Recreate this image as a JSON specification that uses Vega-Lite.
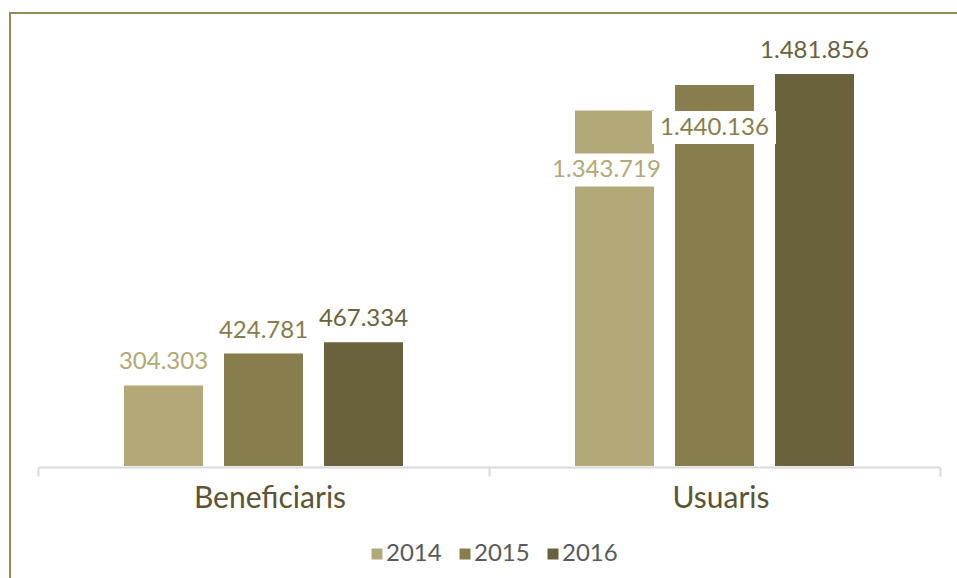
{
  "$schema": "https://vega.github.io/schema/vega-lite/v6.json",
  "width": 950,
  "height": 570,
  "autosize": {"type": "none"},
  "padding": {"left": 10, "top": 13, "right": -3, "bottom": -5},
  "background": "white",
  "config": {
    "view": {"stroke": "#968b58", "strokeWidth": 2},
    "font": "Lato",
    "locale": {"number": {"decimal": ",", "thousands": ".", "grouping": [3], "currency": ["", " €"]}}
  },
  "data": {
    "values": [
      {"grup": "Beneficiaris", "any": "2014", "valor": 304303},
      {"grup": "Beneficiaris", "any": "2015", "valor": 424781},
      {"grup": "Beneficiaris", "any": "2016", "valor": 467334},
      {"grup": "Usuaris", "any": "2014", "valor": 1343719},
      {"grup": "Usuaris", "any": "2015", "valor": 1440136},
      {"grup": "Usuaris", "any": "2016", "valor": 1481856}
    ]
  },
  "encoding": {
    "x": {
      "field": "grup",
      "type": "nominal",
      "sort": ["Beneficiaris", "Usuaris"],
      "scale": {"range": [28, 930], "paddingInner": 0, "paddingOuter": 0},
      "axis": {
        "title": null,
        "offset": -116,
        "domainColor": "#d9d9d9",
        "domainWidth": 2,
        "tickColor": "#d9d9d9",
        "tickWidth": 2,
        "tickSize": 9,
        "tickBand": "extent",
        "labelAngle": 0,
        "labelFont": "Lato",
        "labelFontSize": 30,
        "labelColor": "#5c5434",
        "labelBaseline": "alphabetic",
        "labelPadding": 31,
        "labelOffset": 6
      }
    },
    "xOffset": {
      "field": "any",
      "type": "nominal",
      "scale": {"paddingInner": 0.21, "paddingOuter": 0.86}
    },
    "y": {
      "field": "valor",
      "type": "quantitative",
      "scale": {"domain": [0, 1712000], "range": [453, 0], "nice": false, "zero": true},
      "axis": null
    },
    "color": {
      "field": "any",
      "type": "nominal",
      "scale": {"domain": ["2014", "2015", "2016"], "range": ["#b3a878", "#887d4c", "#6a613d"]},
      "legend": {
        "title": null,
        "orient": "none",
        "direction": "horizontal",
        "legendX": 355,
        "legendY": 529,
        "padding": 0,
        "symbolType": "square",
        "symbolSize": 121,
        "symbolStrokeWidth": 0,
        "labelFont": "Lato",
        "labelFontSize": 24,
        "labelColor": "#595959",
        "labelOffset": -3,
        "columnPadding": 11
      }
    }
  },
  "layer": [
    {"mark": {"type": "bar"}},
    {
      "transform": [{"filter": "!(datum.grup == 'Usuaris' && (datum.any == '2014' || datum.any == '2015'))"}],
      "mark": {"type": "text", "dy": -16, "baseline": "alphabetic", "align": "center", "fontSize": 24, "font": "Lato"},
      "encoding": {"text": {"field": "valor", "type": "quantitative", "format": ",d"}}
    },
    {
      "transform": [{"filter": "datum.grup == 'Usuaris' && datum.any == '2014'"}],
      "mark": {"type": "point", "shape": "M-7.05,4.3H5.35V7.6H-7.05Z", "size": 400, "filled": true, "opacity": 1, "strokeWidth": 0},
      "encoding": {"color": {"value": "white"}}
    },
    {
      "transform": [{"filter": "datum.grup == 'Usuaris' && datum.any == '2014'"}],
      "mark": {"type": "text", "dy": 66.7, "dx": -8, "baseline": "alphabetic", "align": "center", "fontSize": 24, "font": "Lato"},
      "encoding": {"text": {"field": "valor", "type": "quantitative", "format": ",d"}}
    },
    {
      "transform": [{"filter": "datum.grup == 'Usuaris' && datum.any == '2015'"}],
      "mark": {"type": "point", "shape": "M-6.25,2.6H6.15V5.9H-6.25Z", "size": 400, "filled": true, "opacity": 1, "strokeWidth": 0},
      "encoding": {"color": {"value": "white"}}
    },
    {
      "transform": [{"filter": "datum.grup == 'Usuaris' && datum.any == '2015'"}],
      "mark": {"type": "text", "dy": 50, "baseline": "alphabetic", "align": "center", "fontSize": 24, "font": "Lato"},
      "encoding": {"text": {"field": "valor", "type": "quantitative", "format": ",d"}}
    }
  ]
}
